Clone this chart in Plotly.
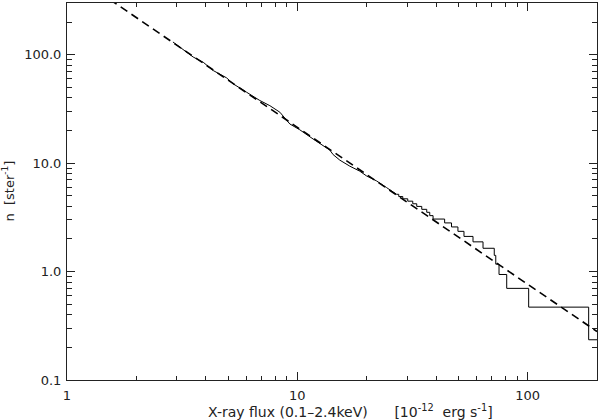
import plotly.graph_objects as go

# cumulative counts n(>S), smooth bright end
dense_flux = [2.884, 3.531, 3.903, 4.312, 4.929, 5.266, 6.021, 6.876, 7.599, 8.398,
              9.279, 10.25, 11.71, 12.94, 13.84, 14.30, 15.29, 16.90, 18.67, 19.96,
              22.06, 24.38, 26.94]
dense_n = [131.1, 95.2, 85.2, 71.5, 61.2, 53.9, 45.1, 37.8, 33.9, 29.5,
           22.97, 20.3, 16.7, 14.46, 13.19, 11.99, 10.66, 9.38, 8.43, 7.63,
           6.86, 5.96, 5.16]

# faint end, step function (level starts at each flux)
step_flux = [26.94, 27.56, 28.69, 30.16, 31.70, 32.99, 34.69, 36.46, 37.57, 38.84,
             43.6, 46.7, 49.8, 52.9, 57.9, 64.0, 71.6, 72.7, 75.1, 81.1,
             101.0, 184.0, 200.0]
step_n = [5.16, 4.92, 4.69, 4.46, 4.22, 3.99, 3.75, 3.52, 3.28, 3.05,
          2.81, 2.58, 2.35, 2.11, 1.88, 1.64, 1.41, 1.17, 0.94, 0.70,
          0.47, 0.235, 0.235]

# power-law fit (dashed)
fit_flux = [1.0, 200.0]
fit_n = [600.0, 0.28]

x_ticks = [1, 10, 100]
x_labels = ["1", "10", "100"]
y_ticks = [0.1, 1, 10, 100]
y_labels = ["0.1", "1.0", "10.0", "100.0"]

ink = "#222222"
font = dict(family="DejaVu Sans", size=13, color=ink)
title_font = dict(family="DejaVu Sans", size=14, color=ink)

fig = go.Figure()
fig.add_trace(go.Scatter(x=fit_flux, y=fit_n, mode="lines",
                         line=dict(color="black", width=1.6, dash="8px,5px")))
fig.add_trace(go.Scatter(x=dense_flux, y=dense_n, mode="lines",
                         line=dict(color="black", width=1)))
fig.add_trace(go.Scatter(x=step_flux, y=step_n, mode="lines",
                         line=dict(color="black", width=1, shape="hv")))

axis_common = dict(
    type="log", showgrid=False, zeroline=False, automargin=False,
    showline=True, linecolor=ink, linewidth=1, mirror="ticks",
    ticks="inside", tickcolor=ink, tickwidth=1, tickfont=font,
)

fig.update_xaxes(
    **axis_common, range=[0, 2.301], tickmode="array",
    tickvals=x_ticks, ticktext=x_labels, ticklen=8, ticklabelstandoff=3,
    minor=dict(dtick="D1", ticks="inside", ticklen=4, tickcolor=ink, showgrid=False),
)
fig.update_yaxes(
    **axis_common, range=[-1, 2.477], tickmode="array",
    tickvals=y_ticks, ticktext=y_labels, ticklen=8, ticklabelstandoff=2,
    minor=dict(dtick="D1", ticks="inside", ticklen=5, tickcolor=ink, showgrid=False),
)

fig.add_annotation(
    text="X-ray flux (0.1–2.4keV)      [10<sup>-12</sup>  erg s<sup>-1</sup>]",
    xref="paper", yref="paper", x=0.5, y=0, xshift=18, yshift=-31,
    xanchor="center", yanchor="middle", showarrow=False, font=title_font,
)
fig.add_annotation(
    text="n  [ster<sup>-1</sup>]", textangle=-90,
    xref="paper", yref="paper", x=0, y=0.5, xshift=-59,
    xanchor="center", yanchor="middle", showarrow=False, font=font,
)

fig.update_layout(
    width=600, height=420,
    margin=dict(l=67, r=3, t=3, b=40),
    paper_bgcolor="white", plot_bgcolor="white",
    showlegend=False,
)

fig.write_html("out.html", config={"displayModeBar": False},
               post_script="document.body.style.margin='0px';")
